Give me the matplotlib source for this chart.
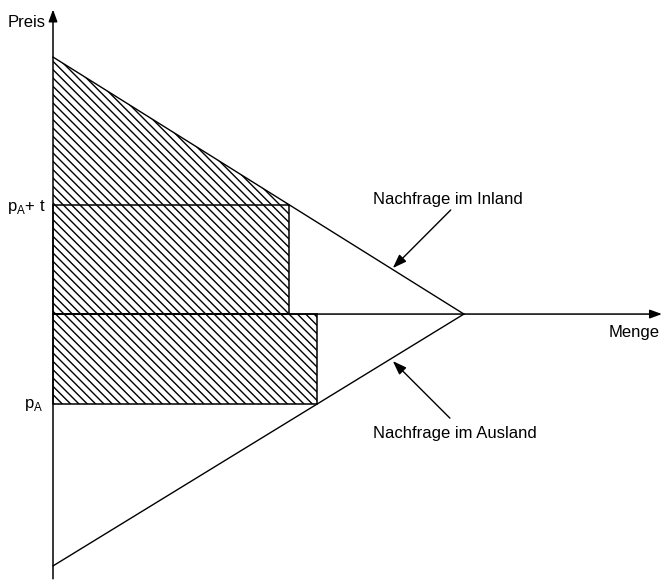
import matplotlib.pyplot as plt
from matplotlib.patches import Polygon, Rectangle

plt.rcParams["font.family"] = ["Liberation Sans", "DejaVu Sans"]
plt.rcParams["mathtext.fontset"] = "custom"
plt.rcParams["mathtext.rm"] = "Liberation Sans"
plt.rcParams["hatch.linewidth"] = 1.0

# (intersection of both demand curves at q = 10)
q_max = 10.0
p_home_max = 10.0      # domestic choke price
p_foreign_min = -9.8   # foreign demand end (below the quantity axis)
p_high = 4.25          # p_A + t
p_low = -3.5           # p_A, drawn below the axis
q_home = 5.75          # domestic quantity at p_A + t
q_foreign = 6.43       # foreign quantity at p_A

fig = plt.figure(figsize=(6.64, 5.87), dpi=100)
ax = fig.add_axes([0, 0, 1, 1])
ax.set_xlim(-1.29, 14.87)
ax.set_ylim(-10.62, 12.22)
ax.axis("off")

hatch = "\\\\\\\\"
tri = Polygon([(0, p_home_max), (q_home, p_high), (0, p_high)], closed=True,
              facecolor="none", edgecolor="black", linewidth=0, hatch=hatch)
ax.add_patch(tri)
ax.add_patch(Rectangle((0, 0), q_home, p_high, facecolor="none",
                       edgecolor="black", linewidth=1.1, hatch=hatch))
ax.add_patch(Rectangle((0, p_low), q_foreign, -p_low, facecolor="none",
                       edgecolor="black", linewidth=1.1, hatch=hatch))

# demand curves
ax.plot([0, q_max], [p_home_max, 0], color="black", lw=1.0)
ax.plot([0, q_max], [p_foreign_min, 0], color="black", lw=1.0)

# axes with arrows
arrow = dict(arrowstyle="-|>,head_width=0.22,head_length=0.6", color="black",
             lw=1.1, shrinkA=0, shrinkB=0, mutation_scale=12)
ax.annotate("", xy=(0, 11.85), xytext=(0, -10.3), arrowprops=arrow)
ax.annotate("", xy=(14.82, 0), xytext=(0, 0), arrowprops=arrow)

fs = 12
ax.text(-0.17, 11.36, "Preis", ha="right", va="center", fontsize=fs)
ax.text(14.77, -0.7, "Menge", ha="right", va="center", fontsize=fs)
ax.text(-0.17, 4.16, r"p$_\mathrm{A}$+ t", ha="right", va="center", fontsize=fs)
ax.text(-0.24, -3.54, r"p$_\mathrm{A}$", ha="right", va="center", fontsize=fs)

small = dict(arrowstyle="-|>,head_width=0.25,head_length=0.7", color="black",
             lw=1.0, shrinkA=0, shrinkB=0, mutation_scale=12)
ax.text(7.79, 4.47, "Nachfrage im Inland", ha="left", va="center", fontsize=fs)
ax.annotate("", xy=(8.27, 1.79), xytext=(9.68, 4.05), arrowprops=small)
ax.text(7.79, -4.63, "Nachfrage im Ausland", ha="left", va="center", fontsize=fs)
ax.annotate("", xy=(8.27, -1.83), xytext=(9.66, -4.05), arrowprops=small)

fig.savefig("out.png", dpi=100)
